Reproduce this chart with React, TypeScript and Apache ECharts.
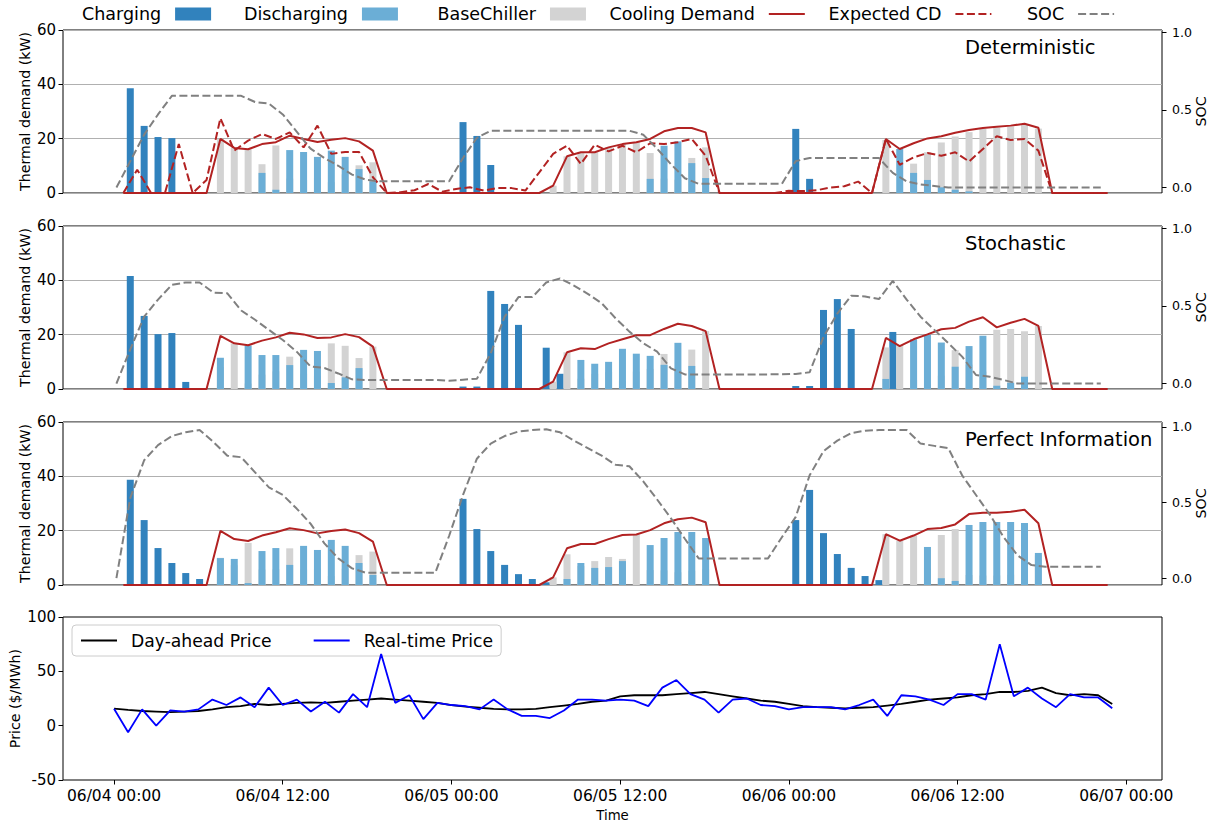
import { useEffect, useRef } from 'react';
import * as echarts from 'echarts';

const FONT = 'DejaVu Sans';
const DARK_BLUE = '#3182bd';
const LIGHT_BLUE = '#6baed6';
const LIGHT_GREY = '#d3d3d3';
const RED = '#b22222';
const GREY = '#808080';

// Hours from 06/04 00:00
const X_MIN = -3.63;
const X_MAX = 74.54;
const TICK_HOURS = [0, 12, 24, 36, 48, 60, 72];
const TICK_LABELS = ['06/04 00:00', '06/04 12:00', '06/05 00:00', '06/05 12:00', '06/06 00:00', '06/06 12:00', '06/07 00:00'];

// Dispatch results sit on a slightly compressed hourly grid: charging in the left
// half of each slot, the chiller supply (discharging + base chiller) in the right half.
const SLOT = 71 / 72;
const SLOT_ORIGIN = 0.17;
const chargeX = (i: number) => SLOT_ORIGIN + i * SLOT;
const supplyX = (i: number) => SLOT_ORIGIN + (i + 0.5) * SLOT;

// ---------------- Deterministic ----------------
const detCharging = [
  0, 38.6, 24.7, 20.6, 20.2, 0, 0, 0, 0, 0, 0, 0, 0, 0, 0, 0, 0, 0, 0, 0, 0, 0, 0, 0,
  0, 26.1, 21.0, 10.3, 0, 0, 0, 0, 0, 0, 0, 0, 0, 0, 0, 0, 0, 0, 0, 0, 0, 0, 0, 0,
  0, 23.6, 5.2, 0, 0, 0, 0, 0, 0, 0, 0, 0, 0, 0, 0, 0, 0, 0, 0, 0, 0, 0, 0, 0,
];
const detDischarging = [
  0, 0, 0, 0, 0, 0, 0, 0, 0, 0, 7.4, 1.2, 15.8, 15.1, 13.3, 15.6, 13.3, 8.8, 4.3, 0, 0, 0, 0, 0,
  0, 0, 0, 0, 0, 0, 0, 0, 0, 0, 0, 0, 0, 0, 5.2, 17.4, 19.0, 11.0, 5.5, 0, 0, 0, 0, 0,
  0, 0, 0, 0, 0, 0, 0, 0, 16.2, 7.4, 4.8, 2.1, 1.2, 0.6, 0, 0, 0, 0, 0, 0, 0, 0, 0, 0,
];
const detBaseChiller = [
  0, 0, 0, 0, 0, 0, 0, 19.9, 16.6, 16.1, 10.6, 17.5, 5.3, 4.8, 5.5, 4.0, 6.9, 10.2, 11.3, 0, 0, 0, 0, 0,
  0, 0, 0, 0, 0, 0, 0, 2.7, 13.5, 15.0, 15.0, 16.8, 18.0, 18.7, 14.7, 5.3, 4.9, 12.9, 16.8, 0, 0, 0, 0, 0,
  0, 0, 0, 0, 0, 0, 0, 19.5, 0, 10.8, 15.0, 18.6, 20.8, 22.4, 23.6, 24.1, 24.5, 25.1, 23.7, 0, 0, 0, 0, 0,
];
const detDemand = [
  0, 0, 0, 0, 0, 0, 0, 19.9, 16.6, 16.1, 18.0, 18.7, 21.1, 19.9, 18.8, 19.6, 20.2, 19.0, 15.6, 0, 0, 0, 0, 0,
  0, 0, 0, 0, 0, 0, 0, 2.7, 13.5, 15.0, 15.0, 16.8, 18.0, 18.7, 19.9, 22.7, 23.9, 23.9, 22.3, 0, 0, 0, 0, 0,
  0, 0, 0, 0, 0, 0, 0, 19.9, 16.2, 18.3, 20.1, 20.9, 22.2, 23.2, 23.9, 24.4, 24.8, 25.5, 24.0, 0, 0, 0, 0, 0,
];
const detExpected = [
  0, 8.6, 0, 0, 18.0, 0, 4.8, 27.5, 15.6, 19.3, 21.7, 19.9, 22.3, 16.8, 24.8, 14.4, 15.1, 15.1, 5.8, 0, 0.3, 1.0, 3.3, 0.5,
  1.5, 2.1, 0.9, 1.8, 1.8, 0.9, 7.6, 14.4, 17.4, 10.7, 17.8, 15.3, 17.4, 15.0, 18.3, 18.0, 18.7, 19.9, 13.7, 0, 0, 0, 0, 0,
  0.8, 0.7, 1.0, 2.0, 2.5, 4.2, 0, 19.9, 10.4, 13.1, 14.7, 13.7, 15.0, 11.6, 16.2, 20.9, 19.5, 19.9, 15.6, 0, 0, 0, 0, 0,
];
const detSoc = [
  0, 0.17, 0.34, 0.47, 0.59, 0.59, 0.59, 0.59, 0.59, 0.59, 0.55, 0.54, 0.47, 0.36, 0.25, 0.19, 0.14, 0.083, 0.05, 0.04, 0.04, 0.04, 0.04, 0.04,
  0.04, 0.19, 0.32, 0.365, 0.365, 0.365, 0.365, 0.365, 0.365, 0.365, 0.365, 0.365, 0.365, 0.365, 0.34, 0.25, 0.15, 0.06, 0.024, 0.024, 0.024, 0.024, 0.024, 0.024,
  0.024, 0.17, 0.19, 0.19, 0.19, 0.19, 0.19, 0.19, 0.094, 0.04, 0.02, 0.01, 0, 0, 0, 0, 0, 0, 0, 0, 0, 0, 0, 0,
];

// ---------------- Stochastic ----------------
const stoCharging = [
  0, 41.6, 26.9, 20.2, 20.6, 2.6, 0, 0, 0, 0, 0, 0, 0, 0, 0, 0, 0, 0, 0, 0, 0, 0, 0, 0,
  0, 0.9, 0.9, 36.1, 31.3, 23.6, 0, 15.2, 5.6, 0, 0, 0, 0, 0, 0, 0, 0, 0, 0, 0, 0, 0, 0, 0,
  0, 1.1, 1.1, 29.1, 33.1, 22.1, 0, 0, 21.0, 0, 0, 0, 0, 0, 0, 0, 0, 0, 0, 0, 0, 0, 0, 0,
];
const stoDischarging = [
  0, 0, 0, 0, 0, 0, 0, 11.5, 0, 16.0, 12.5, 12.5, 8.8, 14.4, 14.0, 2.2, 4.3, 7.7, 0, 0, 0, 0, 0, 0,
  0, 0, 0, 0, 0, 0, 0, 0, 0, 10.7, 9.3, 10.0, 14.8, 13.0, 12.2, 8.9, 17.0, 8.5, 0, 0, 0, 0, 0, 0,
  0, 0, 0, 0, 0, 0, 0, 3.7, 0, 18.3, 19.9, 17.1, 8.2, 15.8, 19.6, 1.2, 2.3, 4.5, 0, 0, 0, 0, 0, 0,
];
const stoBaseChiller = [
  0, 0, 0, 0, 0, 0, 0, 8.1, 16.8, 2.0, 5.3, 6.5, 11.9, 5.7, 4.8, 16.8, 15.9, 11.4, 15.6, 0, 0, 0, 0, 0,
  0, 0, 0, 0, 0, 0, 0, 2.7, 13.5, 3.8, 5.6, 6.3, 3.1, 6.4, 7.4, 12.9, 7.0, 14.5, 21.3, 0, 0, 0, 0, 0,
  0, 0, 0, 0, 0, 0, 0, 15.3, 16.2, 3.4, 1.8, 4.9, 14.3, 9.0, 6.4, 21.8, 22.1, 21.3, 23.2, 0, 0, 0, 0, 0,
];
const stoDemand = [
  0, 0, 0, 0, 0, 0, 0, 19.6, 16.8, 16.1, 17.8, 19.0, 20.7, 20.1, 18.8, 19.0, 20.2, 19.1, 15.6, 0, 0, 0, 0, 0,
  0, 0, 0, 0, 0, 0, 0, 2.7, 13.5, 15.0, 14.7, 16.8, 18.3, 19.8, 19.8, 22.1, 24.0, 23.2, 21.3, 0, 0, 0, 0, 0,
  0, 0, 0, 0, 0, 0, 0, 18.8, 15.8, 18.3, 20.1, 22.0, 22.5, 24.8, 26.4, 22.7, 24.4, 25.8, 23.2, 0, 0, 0, 0, 0,
];
const stoSoc = [
  0, 0.22, 0.43, 0.54, 0.635, 0.65, 0.65, 0.585, 0.58, 0.47, 0.41, 0.345, 0.28, 0.205, 0.11, 0.1, 0.065, 0.027, 0.023, 0.023, 0.023, 0.023, 0.023, 0.023,
  0.018, 0.025, 0.031, 0.195, 0.43, 0.556, 0.556, 0.65, 0.676, 0.63, 0.577, 0.517, 0.42, 0.334, 0.26, 0.205, 0.098, 0.059, 0.059, 0.059, 0.059, 0.059, 0.059, 0.059,
  0.06, 0.062, 0.072, 0.3, 0.45, 0.565, 0.56, 0.543, 0.66, 0.54, 0.43, 0.345, 0.26, 0.173, 0.055, 0.044, 0.023, 0, 0, 0, 0, 0, 0, 0,
];

// ---------------- Perfect Information ----------------
const piCharging = [
  0, 38.7, 23.9, 13.6, 8.1, 4.4, 2.2, 0, 0, 0, 0, 0, 0, 0, 0, 0, 0, 0, 0, 0, 0, 0, 0, 0,
  0, 31.7, 20.6, 12.5, 7.4, 4.0, 2.2, 1.0, 0, 0, 0, 0, 0, 0, 0, 0, 0, 0, 0, 0, 0, 0, 0, 0,
  0, 23.9, 35.0, 19.1, 11.4, 6.3, 3.3, 1.8, 0, 0, 0, 0, 0, 0, 0, 0, 0, 0, 0, 0, 0, 0, 0, 0,
];
const piDischarging = [
  0, 0, 0, 0, 0, 0, 0, 9.9, 9.6, 0.7, 12.5, 13.6, 7.4, 14.4, 12.9, 16.6, 14.4, 8.1, 3.7, 0, 0, 0, 0, 0,
  0, 0, 0, 0, 0, 0, 0, 0, 2.2, 8.1, 6.3, 6.6, 8.8, 0, 14.7, 17.3, 19.5, 19.5, 17.3, 0, 0, 0, 0, 0,
  0, 0, 0, 0, 0, 0, 0, 0, 0, 0, 14.0, 2.5, 1.5, 22.1, 23.2, 23.2, 23.2, 22.8, 11.8, 0, 0, 0, 0, 0,
];
const piBaseChiller = [
  0, 0, 0, 0, 0, 0, 0, 10.0, 7.3, 15.5, 5.7, 5.8, 13.5, 5.8, 6.1, 3.3, 6.0, 11.0, 12.3, 0, 0, 0, 0, 0,
  0, 0, 0, 0, 0, 0, 0, 2.8, 11.3, 7.0, 8.8, 10.3, 9.6, 18.6, 5.5, 5.4, 4.7, 5.3, 5.8, 0, 0, 0, 0, 0,
  0, 0, 0, 0, 0, 0, 0, 18.7, 16.3, 18.2, 6.2, 18.4, 20.6, 3.7, 3.5, 3.5, 3.8, 4.4, 10.9, 0, 0, 0, 0, 0,
];
const piDemand = [
  0, 0, 0, 0, 0, 0, 0, 19.9, 16.9, 16.2, 18.2, 19.4, 20.9, 20.2, 19.0, 19.9, 20.4, 19.1, 16.0, 0, 0, 0, 0, 0,
  0, 0, 0, 0, 0, 0, 0, 2.8, 13.5, 15.1, 15.1, 16.9, 18.4, 18.6, 20.2, 22.7, 24.2, 24.8, 23.1, 0, 0, 0, 0, 0,
  0, 0, 0, 0, 0, 0, 0, 18.7, 16.3, 18.2, 20.6, 21.0, 22.3, 26.1, 26.6, 26.6, 27.0, 27.7, 22.7, 0, 0, 0, 0, 0,
];
const piSoc = [
  0, 0.53, 0.78, 0.88, 0.94, 0.965, 0.98, 0.9, 0.81, 0.8, 0.7, 0.6, 0.55, 0.46, 0.36, 0.23, 0.13, 0.064, 0.035, 0.035, 0.035, 0.035, 0.035, 0.035,
  0.28, 0.55, 0.79, 0.89, 0.94, 0.97, 0.98, 0.985, 0.965, 0.91, 0.86, 0.81, 0.75, 0.74, 0.64, 0.52, 0.395, 0.26, 0.13, 0.13, 0.13, 0.13, 0.13, 0.13,
  0.27, 0.405, 0.68, 0.84, 0.91, 0.96, 0.975, 0.98, 0.98, 0.98, 0.89, 0.875, 0.86, 0.68, 0.55, 0.42, 0.27, 0.15, 0.086, 0.075, 0.075, 0.075, 0.075, 0.075,
];

// ---------------- Prices ($/MWh), hourly ----------------
const dayAheadPrice = [
  15.6, 14.5, 13.5, 13, 12.5, 13, 13.5, 15, 17, 18, 20, 19,
  20, 21, 21.5, 21, 22, 23, 24, 25, 24, 23, 22, 21,
  19, 17.5, 16.5, 15.5, 15, 15, 15.5, 17, 18.5, 20, 22, 23,
  27, 28, 28, 28, 29, 30, 31, 29, 27, 25, 23, 22,
  20, 18, 17, 16.5, 16, 16.5, 17, 18.5, 20, 22, 24, 25,
  26, 28, 29, 31, 31, 32, 35, 30, 28, 29, 28, 20,
];
const realTimePrice = [
  15.6, -6, 15, 0, 14, 13, 15, 24, 19, 26, 17, 35,
  19, 24, 13, 22, 12, 29, 17, 66, 21, 28, 6, 21,
  19, 18, 15, 24, 15, 9, 9, 7, 14, 24, 24, 23,
  24, 23, 18, 35, 42, 29, 24, 12, 24, 25, 19, 18,
  15, 17, 17, 17, 15, 19, 24, 9, 28, 27, 24, 19,
  29, 29, 24, 75, 27, 35, 25, 17, 29, 26, 26, 16,
];

type Panel = {
  title: string;
  charging: number[];
  discharging: number[];
  baseChiller: number[];
  demand: number[];
  expected?: number[];
  soc: number[];
  socMin: number;
  socMax: number;
};

const PANELS: Panel[] = [
  { title: 'Deterministic', charging: detCharging, discharging: detDischarging, baseChiller: detBaseChiller, demand: detDemand, expected: detExpected, soc: detSoc, socMin: -0.035, socMax: 1.013 },
  { title: 'Stochastic', charging: stoCharging, discharging: stoDischarging, baseChiller: stoBaseChiller, demand: stoDemand, soc: stoSoc, socMin: -0.035, socMax: 1.013 },
  { title: 'Perfect Information', charging: piCharging, discharging: piDischarging, baseChiller: piBaseChiller, demand: piDemand, soc: piSoc, socMin: -0.046, socMax: 1.033 },
];

const GRID_LEFT = 63;
const GRID_WIDTH = 1099;
const GRID_HEIGHT = 163;
const GRID_TOPS = [30, 226, 422, 617];

const txt = (size: number) => ({ fontFamily: FONT, fontSize: size, color: '#000' });

function buildOption() {
  const grid = GRID_TOPS.map((top) => ({
    left: GRID_LEFT, top, width: GRID_WIDTH, height: GRID_HEIGHT,
    show: true, borderColor: '#000', borderWidth: 1, backgroundColor: 'transparent',
    containLabel: false, outerBoundsMode: 'none',
  }));

  const xAxis = GRID_TOPS.map((_, k) => {
    const last = k === GRID_TOPS.length - 1;
    return {
      type: 'value', gridIndex: k, min: X_MIN, max: X_MAX, position: 'bottom',
      axisLine: { show: false, onZero: false },
      splitLine: { show: false },
      axisTick: { show: last, customValues: TICK_HOURS, length: 4.5, lineStyle: { color: '#000', width: 1 } },
      axisLabel: {
        show: last, customValues: TICK_HOURS, margin: 8, ...txt(15.5),
        formatter: (v: number) => TICK_LABELS[TICK_HOURS.indexOf(Math.round(v))] ?? '',
      },
      name: last ? 'Time' : '', nameLocation: 'middle', nameGap: 29, nameMoveOverlap: false,
      nameTextStyle: txt(13.3),
    };
  });

  const yAxis: any[] = [];
  PANELS.forEach((p, k) => {
    yAxis.push({
      type: 'value', gridIndex: k, min: 0, max: 60, interval: 20, position: 'left',
      axisLine: { show: false, onZero: false },
      axisTick: { show: true, length: 4.5, lineStyle: { color: '#000' } },
      axisLabel: { margin: 7, ...txt(15) },
      splitLine: { show: true, lineStyle: { color: '#b0b0b0', width: 1 } },
      name: 'Thermal demand (kW)', nameLocation: 'middle', nameRotate: 90, nameGap: 31,
      nameMoveOverlap: false, nameTextStyle: txt(14.2),
    });
    yAxis.push({
      type: 'value', gridIndex: k, min: p.socMin, max: p.socMax, position: 'right',
      axisLine: { show: false, onZero: false },
      axisTick: { show: true, customValues: [0, 0.5, 1], length: 4.5, lineStyle: { color: '#000' } },
      axisLabel: { customValues: [0, 0.5, 1], margin: 10, ...txt(12.6), formatter: (v: number) => v.toFixed(1) },
      splitLine: { show: false },
      name: 'SOC', nameLocation: 'middle', nameRotate: 90, nameGap: 32,
      nameMoveOverlap: false, nameTextStyle: txt(14.2),
    });
  });
  yAxis.push({
    type: 'value', gridIndex: 3, min: -50, max: 100, interval: 50,
    axisLine: { show: false, onZero: false },
    axisTick: { show: true, length: 4.5, lineStyle: { color: '#000' } },
    axisLabel: { margin: 7, ...txt(15) },
    splitLine: { show: false },
    name: 'Price ($/MWh)', nameLocation: 'middle', nameRotate: 90, nameGap: 41,
    nameMoveOverlap: false, nameTextStyle: txt(14.2),
  });

  const series: any[] = [];
  PANELS.forEach((p, k) => {
    const yLeft = 2 * k;
    const yRight = 2 * k + 1;
    series.push({
      type: 'bar', name: 'Charging', xAxisIndex: k, yAxisIndex: yLeft,
      data: p.charging.map((v, i) => [chargeX(i), v]),
      barWidth: 7, barGap: '-100%', itemStyle: { color: DARK_BLUE }, z: 2,
    });
    // base chiller is listed first so that discharging ends up at the bottom of the column
    series.push({
      type: 'bar', name: 'BaseChiller', xAxisIndex: k, yAxisIndex: yLeft, stack: 'supply' + k,
      data: p.baseChiller.map((v, i) => [supplyX(i), v]),
      barWidth: 7, barGap: '-100%', itemStyle: { color: LIGHT_GREY }, z: 2,
    });
    series.push({
      type: 'bar', name: 'Discharging', xAxisIndex: k, yAxisIndex: yLeft, stack: 'supply' + k,
      data: p.discharging.map((v, i) => [supplyX(i), v]),
      barWidth: 7, barGap: '-100%', itemStyle: { color: LIGHT_BLUE }, z: 2,
    });
    series.push({
      type: 'line', name: 'Cooling Demand', xAxisIndex: k, yAxisIndex: yLeft,
      data: p.demand.map((v, i) => [supplyX(i), v]),
      symbol: 'none', lineStyle: { color: RED, width: 2 }, itemStyle: { color: RED }, z: 4,
    });
    if (p.expected) {
      series.push({
        type: 'line', name: 'Expected CD', xAxisIndex: k, yAxisIndex: yLeft,
        data: p.expected.map((v, i) => [supplyX(i), v]),
        symbol: 'none', lineStyle: { color: RED, width: 2, type: [8, 3.5] }, itemStyle: { color: RED }, z: 4,
      });
    }
    series.push({
      type: 'line', name: 'SOC', xAxisIndex: k, yAxisIndex: yRight,
      data: p.soc.map((v, i) => [chargeX(i), v]),
      symbol: 'none', lineStyle: { color: GREY, width: 2, type: [8, 3.5] }, itemStyle: { color: GREY }, z: 5,
    });
  });
  series.push({
    type: 'line', name: 'Day-ahead Price', xAxisIndex: 3, yAxisIndex: 6,
    data: dayAheadPrice.map((v, h) => [h, v]),
    symbol: 'none', lineStyle: { color: '#000', width: 1.8 }, itemStyle: { color: '#000' }, z: 4,
  });
  series.push({
    type: 'line', name: 'Real-time Price', xAxisIndex: 3, yAxisIndex: 6,
    data: realTimePrice.map((v, h) => [h, v]),
    symbol: 'none', lineStyle: { color: '#0000ff', width: 1.8 }, itemStyle: { color: '#0000ff' }, z: 5,
  });

  const barEntries: [string, number][] = [
    ['Charging', 82],
    ['Discharging', 244],
    ['BaseChiller', 437.5],
  ];
  const lineEntries: [string, number][] = [
    ['Cooling Demand', 609.5],
    ['Expected CD', 828.5],
    ['SOC', 1027],
  ];
  const topLegendBase = {
    top: 5, padding: 0, align: 'right', itemWidth: 36, itemHeight: 13,
    selectedMode: false,
    textStyle: { ...txt(17.5), padding: [0, 9, 0, 0] },
  };
  const legend: any[] = [
    ...barEntries.map(([name, left]) => ({ ...topLegendBase, left, data: [{ name, icon: 'rect' }] })),
    // line entries show only the stroke, no marker
    ...lineEntries.map(([name, left]) => ({ ...topLegendBase, left, data: [{ name }], itemStyle: { opacity: 0 } })),
  ];
  legend.push({
    data: ['Day-ahead Price', 'Real-time Price'],
    left: 72, top: 625, itemWidth: 36, itemHeight: 14, itemGap: 41,
    selectedMode: false,
    itemStyle: { opacity: 0 },
    borderColor: '#cccccc', borderWidth: 1, borderRadius: 4, padding: [7, 8, 7, 8],
    textStyle: { ...txt(17.2), padding: [0, 0, 0, 9] },
  });

  const graphic = PANELS.map((p, k) => ({
    type: 'text', left: 965, top: GRID_TOPS[k] + 7,
    style: { text: p.title, fontFamily: FONT, fontSize: 19.5, fill: '#000' },
    z: 10,
  }));

  return {
    animation: false,
    backgroundColor: '#fff',
    textStyle: { fontFamily: FONT },
    grid, xAxis, yAxis, series, legend, graphic,
  };
}

export default function App() {
  const ref = useRef<HTMLDivElement>(null);
  useEffect(() => {
    const chart = echarts.init(ref.current!, null, { renderer: 'svg' });
    chart.setOption(buildOption() as any);
    return () => chart.dispose();
  }, []);
  return (
    <div
      ref={ref}
      style={{ position: 'absolute', left: 0, top: 0, width: 1217, height: 826, background: '#fff' }}
    />
  );
}
